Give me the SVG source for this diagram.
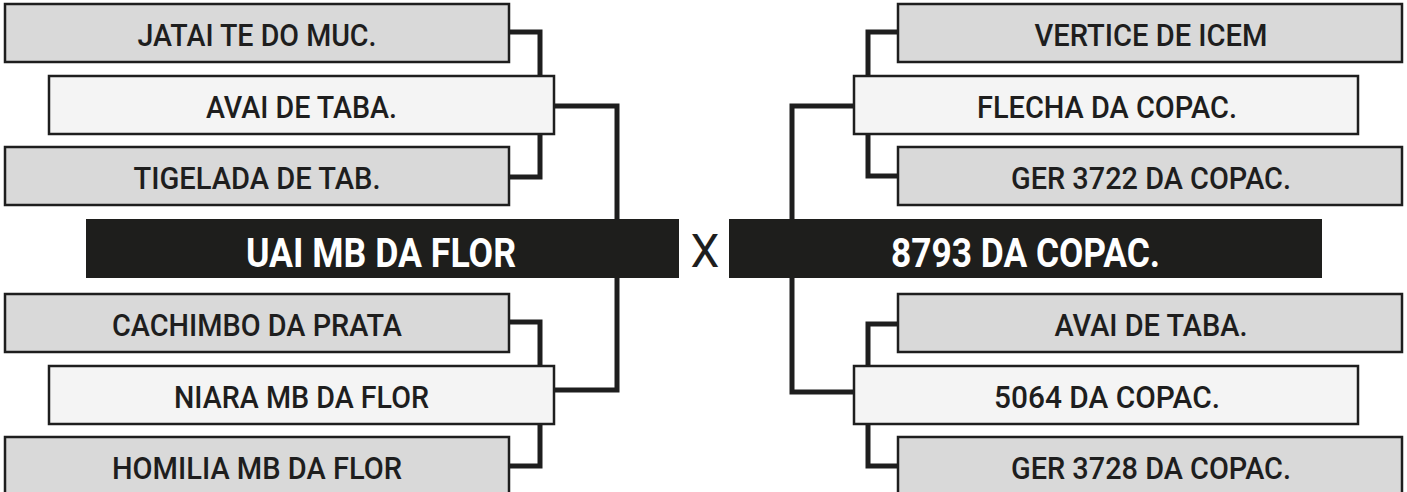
<svg xmlns="http://www.w3.org/2000/svg" width="1407" height="492" viewBox="0 0 1407 492">
<style>
.lo{fill:#d9d9d9;stroke:#1e1e1e;stroke-width:2.5}
.hi{fill:#f4f4f4;stroke:#1e1e1e;stroke-width:2.5}
.bk{fill:#1e1e1c}
.t{font-family:Roboto,"Liberation Sans",sans-serif;font-weight:500;font-size:31px;fill:#1e1e1e;text-anchor:middle}
.tw{font-family:Roboto,"Liberation Sans",sans-serif;font-weight:700;font-size:41px;fill:#ffffff;text-anchor:middle}
.x{font-family:Roboto,"Liberation Sans",sans-serif;font-weight:400;font-size:46px;fill:#1e1e1e;text-anchor:middle}
.c{fill:none;stroke:#1e1e1e;stroke-width:5;stroke-linejoin:miter}
</style>
<rect width="1407" height="492" fill="#ffffff"/>
<g id="connectors">
<path class="c" d="M509 32 H540 V177 H509"/>
<path class="c" d="M554 106 H617 V390 H554"/>
<path class="c" d="M509 322 H540 V466 H509"/>
<path class="c" d="M898 32 H868 V176 H898"/>
<path class="c" d="M854 106 H792 V392 H854"/>
<path class="c" d="M898 324 H868 V466 H898"/>
</g>
<g id="n-jatai"><rect class="lo" x="5" y="4" width="504" height="58"/><text class="t" x="257" y="46" textLength="239" lengthAdjust="spacingAndGlyphs">JATAI TE DO MUC.</text></g>
<g id="n-avai-l"><rect class="hi" x="49" y="76" width="505" height="58"/><text class="t" x="301.5" y="118" textLength="191" lengthAdjust="spacingAndGlyphs">AVAI DE TABA.</text></g>
<g id="n-tigelada"><rect class="lo" x="5" y="147" width="504" height="58"/><text class="t" x="257" y="189" textLength="247" lengthAdjust="spacingAndGlyphs">TIGELADA DE TAB.</text></g>
<g id="n-uai"><rect class="bk" x="86" y="219" width="593" height="59"/><text class="tw" x="381" y="267" textLength="270" lengthAdjust="spacingAndGlyphs">UAI MB DA FLOR</text></g>
<g id="n-cachimbo"><rect class="lo" x="5" y="294" width="504" height="58"/><text class="t" x="257" y="336" textLength="290" lengthAdjust="spacingAndGlyphs">CACHIMBO DA PRATA</text></g>
<g id="n-niara"><rect class="hi" x="49" y="366" width="505" height="58"/><text class="t" x="301.5" y="408" textLength="255" lengthAdjust="spacingAndGlyphs">NIARA MB DA FLOR</text></g>
<g id="n-homilia"><rect class="lo" x="5" y="437" width="504" height="58"/><text class="t" x="257" y="479" textLength="290" lengthAdjust="spacingAndGlyphs">HOMILIA MB DA FLOR</text></g>
<g id="n-x"><text class="x" x="705" y="267">X</text></g>
<g id="n-vertice"><rect class="lo" x="898" y="4" width="504" height="58"/><text class="t" x="1151" y="46" textLength="233" lengthAdjust="spacingAndGlyphs">VERTICE DE ICEM</text></g>
<g id="n-flecha"><rect class="hi" x="854" y="76" width="504" height="58"/><text class="t" x="1107" y="118" textLength="260" lengthAdjust="spacingAndGlyphs">FLECHA DA COPAC.</text></g>
<g id="n-ger3722"><rect class="lo" x="898" y="147" width="504" height="58"/><text class="t" x="1151" y="189" textLength="280" lengthAdjust="spacingAndGlyphs">GER 3722 DA COPAC.</text></g>
<g id="n-8793"><rect class="bk" x="729" y="219" width="593" height="59"/><text class="tw" x="1025.5" y="267" textLength="269" lengthAdjust="spacingAndGlyphs">8793 DA COPAC.</text></g>
<g id="n-avai-r"><rect class="lo" x="898" y="294" width="504" height="58"/><text class="t" x="1151" y="336" textLength="193" lengthAdjust="spacingAndGlyphs">AVAI DE TABA.</text></g>
<g id="n-5064"><rect class="hi" x="854" y="366" width="504" height="58"/><text class="t" x="1107" y="408" textLength="226" lengthAdjust="spacingAndGlyphs">5064 DA COPAC.</text></g>
<g id="n-ger3728"><rect class="lo" x="898" y="437" width="504" height="58"/><text class="t" x="1151" y="479" textLength="280" lengthAdjust="spacingAndGlyphs">GER 3728 DA COPAC.</text></g>
</svg>
